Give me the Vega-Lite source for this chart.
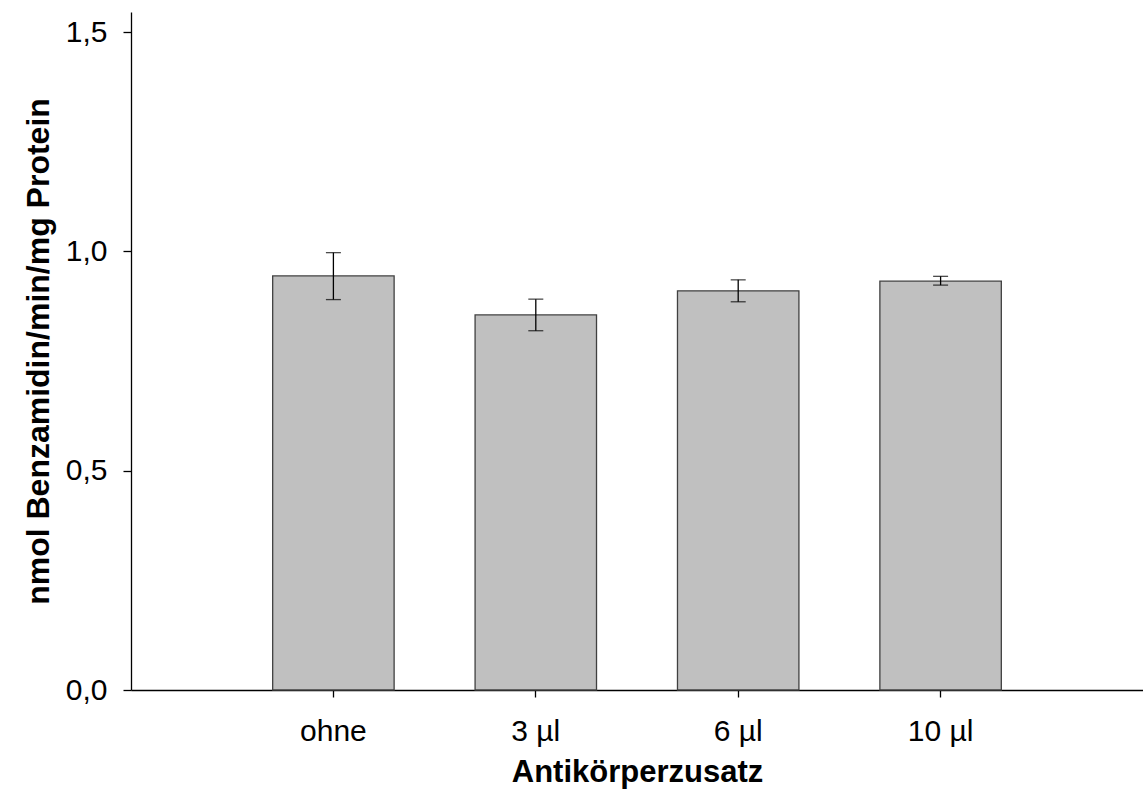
{
  "$schema": "https://vega.github.io/schema/vega-lite/v6.json",
  "autosize": "none",
  "width": 1012,
  "height": 678,
  "padding": {"left": 131, "top": 12, "right": 0, "bottom": 100},
  "background": "white",
  "config": {
    "view": {"stroke": null},
    "font": "Liberation Sans",
    "axis": {"grid": false, "domainColor": "black", "tickColor": "black", "labelColor": "black", "titleColor": "black", "labelFont": "Liberation Sans", "titleFont": "Liberation Sans", "labelFontSize": 30, "titleFontSize": 31, "titleFontWeight": "bold", "domainWidth": 1.3, "tickWidth": 1.3}
  },
  "data": {
    "values": [
      {"Zusatz": "ohne", "mean": 0.944, "lo": 0.890, "hi": 0.997},
      {"Zusatz": "3 µl", "mean": 0.855, "lo": 0.819, "hi": 0.891},
      {"Zusatz": "6 µl", "mean": 0.910, "lo": 0.885, "hi": 0.935},
      {"Zusatz": "10 µl", "mean": 0.932, "lo": 0.923, "hi": 0.943}
    ]
  },
  "encoding": {
    "x": {
      "field": "Zusatz", "type": "nominal", "sort": null,
      "scale": {"paddingInner": 0.4, "paddingOuter": 0.7},
      "axis": {"title": "Antikörperzusatz", "labelAngle": 0, "tickSize": 7, "labelPadding": 19, "titlePadding": 11}
    }
  },
  "layer": [
    {
      "mark": {"type": "bar", "fill": "#c0c0c0", "stroke": "#404040", "strokeWidth": 1.3},
      "encoding": {
        "y": {
          "field": "mean", "type": "quantitative",
          "scale": {"domain": [0, 1.5456], "nice": false},
          "axis": {"title": "nmol Benzamidin/min/mg Protein", "titleFontSize": 32, "values": [0, 0.5, 1, 1.5], "labelExpr": "replace(format(datum.value, '.1f'), '.', ',')", "tickSize": 8, "labelPadding": 16, "titlePadding": 10}
        }
      }
    },
    {
      "mark": {"type": "rule", "color": "black", "strokeWidth": 1.3},
      "encoding": {
        "y": {"field": "lo", "type": "quantitative"},
        "y2": {"field": "hi"}
      }
    },
    {
      "mark": {"type": "tick", "color": "black", "size": 15, "thickness": 1.3, "orient": "horizontal"},
      "encoding": {"y": {"field": "lo", "type": "quantitative"}}
    },
    {
      "mark": {"type": "tick", "color": "black", "size": 15, "thickness": 1.3, "orient": "horizontal"},
      "encoding": {"y": {"field": "hi", "type": "quantitative"}}
    }
  ]
}
